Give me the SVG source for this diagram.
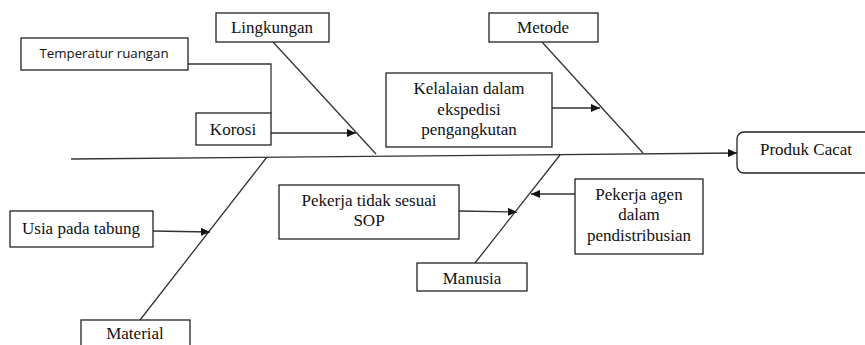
<svg xmlns="http://www.w3.org/2000/svg" width="865" height="345" viewBox="0 0 865 345">
<style>
.box{fill:#fff;stroke:#222;stroke-width:1.3}
.ln{fill:none;stroke:#333;stroke-width:1.3}
.t{font-family:'Liberation Serif','Times New Roman',serif;font-size:17px;fill:#111;text-anchor:middle}
.s{font-family:'Open Sans','Liberation Sans',sans-serif;font-size:13.3px;fill:#111;text-anchor:middle}
</style>
<defs>
<marker id="ah" markerWidth="9" markerHeight="8" refX="9" refY="4" orient="auto" markerUnits="userSpaceOnUse">
<path d="M0,0 L9,4 L0,8 Z" fill="#111"/>
</marker>
</defs>
<rect width="865" height="345" fill="#fff"/>
<g id="connectors">
<line class="ln" x1="71" y1="159" x2="737" y2="153" marker-end="url(#ah)"/>
<line class="ln" x1="273" y1="42" x2="376" y2="154"/>
<line class="ln" x1="542" y1="42" x2="643" y2="153"/>
<line class="ln" x1="267" y1="157" x2="140" y2="320"/>
<line class="ln" x1="560" y1="155" x2="475" y2="263"/>
<polyline class="ln" points="188,64 271,64 271,113"/>
<line class="ln" x1="271" y1="133" x2="356" y2="133" marker-end="url(#ah)"/>
<line class="ln" x1="552" y1="108" x2="600" y2="108" marker-end="url(#ah)"/>
<line class="ln" x1="153" y1="231" x2="210" y2="232" marker-end="url(#ah)"/>
<line class="ln" x1="459" y1="211" x2="517" y2="212" marker-end="url(#ah)"/>
<line class="ln" x1="575" y1="194" x2="531" y2="194" marker-end="url(#ah)"/>
</g>
<g id="temperatur">
<rect class="box" x="21" y="38" width="167" height="32"/>
<text class="s" x="104" y="58">Temperatur ruangan</text>
</g>
<g id="lingkungan">
<rect class="box" x="216" y="13" width="113" height="29"/>
<text class="t" x="272" y="33">Lingkungan</text>
</g>
<g id="korosi">
<rect class="box" x="196" y="113" width="75" height="32"/>
<text class="t" x="233" y="135">Korosi</text>
</g>
<g id="metode">
<rect class="box" x="489" y="13" width="109" height="29"/>
<text class="t" x="543" y="33">Metode</text>
</g>
<g id="kelalaian">
<rect class="box" x="386" y="73" width="166" height="74"/>
<text class="t" x="469" y="94">Kelalaian dalam</text>
<text class="t" x="469" y="115">ekspedisi</text>
<text class="t" x="469" y="135">pengangkutan</text>
</g>
<g id="produk">
<rect class="box" x="737" y="132" width="140" height="41" rx="7"/>
<text class="t" x="806" y="155">Produk Cacat</text>
</g>
<g id="usia">
<rect class="box" x="10" y="211" width="143" height="36"/>
<text class="t" x="81" y="234">Usia pada tabung</text>
</g>
<g id="material">
<rect class="box" x="81" y="320" width="109" height="35"/>
<text class="t" x="135" y="339">Material</text>
</g>
<g id="sop">
<rect class="box" x="279" y="185" width="180" height="54"/>
<text class="t" x="369" y="206">Pekerja tidak sesuai</text>
<text class="t" x="369" y="226">SOP</text>
</g>
<g id="manusia">
<rect class="box" x="417" y="263" width="110" height="28"/>
<text class="t" x="472" y="284">Manusia</text>
</g>
<g id="agen">
<rect class="box" x="575" y="179" width="128" height="75"/>
<text class="t" x="639" y="200">Pekerja agen</text>
<text class="t" x="639" y="220">dalam</text>
<text class="t" x="639" y="241">pendistribusian</text>
</g>
</svg>
